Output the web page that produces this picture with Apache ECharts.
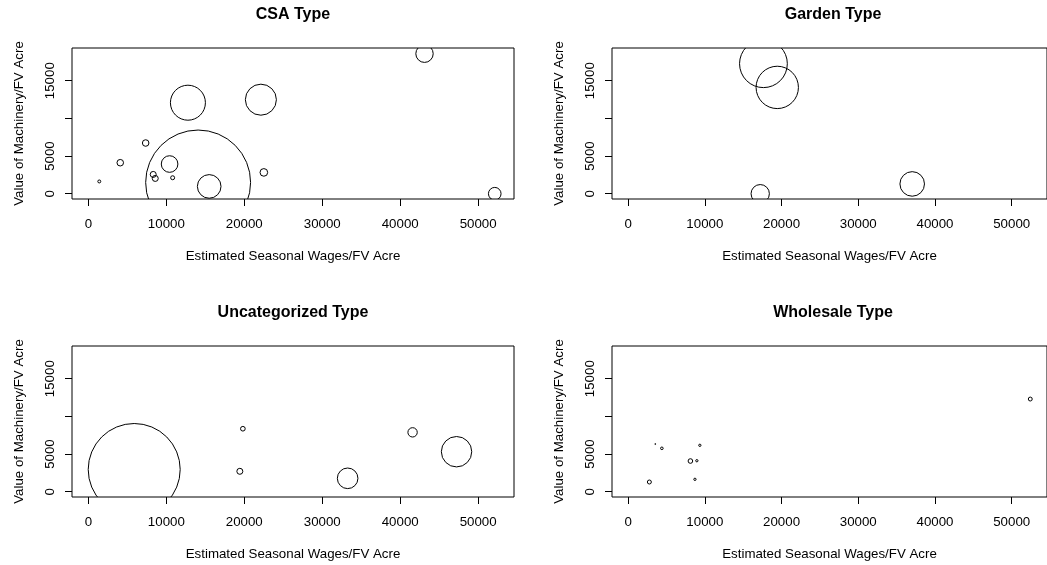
<!DOCTYPE html>
<html>
<head>
<meta charset="utf-8">
<script src="https://cdn.jsdelivr.net/npm/echarts@6/dist/echarts.min.js"></script>
<style>
  html, body { margin: 0; padding: 0; background: #fff; }
  #chart { width: 1047px; height: 565px; }
</style>
</head>
<body>
<div id="chart"></div>
<script>
// Seasonal wages per FV acre (x), machinery value per FV acre (y),
// bubble radius expressed in wage units (r), one set per farm type.
const csaX = [1400, 4090, 7350, 8320, 8580, 10810, 10420, 12770, 14080, 15500, 22130, 22510, 43120, 52130];
const csaY = [1630, 4115, 6730, 2560, 2030, 2120, 3940, 12080, 1490, 970, 12480, 2830, 18580, 0];
const csaR = [190, 420, 420, 385, 385, 255, 1065, 2245, 6730, 1515, 1990, 490, 1115, 810];

const gardenX = [17640, 19440, 17220, 37030];
const gardenY = [17255, 14110, 0, 1300];
const gardenR = [3115, 2760, 1195, 1600];

const uncatX = [5880, 19820, 19430, 33260, 41590, 47230];
const uncatY = [2950, 8360, 2710, 1780, 7880, 5310];
const uncatR = [5900, 300, 385, 1320, 600, 1950];

const wholesaleX = [3540, 4400, 9350, 8120, 8960, 8710, 2770, 52420];
const wholesaleY = [6330, 5760, 6160, 4075, 4115, 1645, 1290, 12300];
const wholesaleR = [60, 170, 150, 300, 150, 150, 260, 255];

const panelTitles = ['CSA Type', 'Garden Type', 'Uncategorized Type', 'Wholesale Type'];
const xTicks = [0, 10000, 20000, 30000, 40000, 50000];
const yTicks = [0, 5000, 10000, 15000];
const yTickLabels = [0, 5000, 15000];
const xName = 'Estimated Seasonal Wages/FV Acre';
const yName = 'Value of Machinery/FV Acre';

const xLimits = [-2100, 54600];
const yLimits = [-700, 19340];

const panels = [
  { x: csaX, y: csaY, r: csaR },
  { x: gardenX, y: gardenY, r: gardenR },
  { x: uncatX, y: uncatY, r: uncatR },
  { x: wholesaleX, y: wholesaleY, r: wholesaleR }
];

const FONT = "'Liberation Sans', Arial, Helvetica, sans-serif";
const lefts = [72, 612];
const tops = [48, 346];
const W = 442, H = 151;

// Open circle whose radius is measured along the wage axis; clipped to the plot box.
function renderBubble(params, api) {
  const c = api.coord([api.value(0), api.value(1)]);
  const r = api.size([api.value(2), 0])[0];
  return {
    type: 'circle',
    shape: { cx: c[0], cy: c[1], r: Math.max(r, 0.4) },
    style: { fill: 'none', stroke: '#000', lineWidth: 1 },
    silent: true
  };
}

const grids = [], xAxes = [], yAxes = [], series = [], texts = [];
panels.forEach((p, i) => {
  const left = lefts[i % 2], top = tops[Math.floor(i / 2)];
  grids.push({
    left: left, top: top, width: W, height: H,
    show: true, borderColor: '#000', borderWidth: 1,
    backgroundColor: 'transparent', containLabel: false
  });
  xAxes.push({
    type: 'value', gridIndex: i, min: xLimits[0], max: xLimits[1],
    axisLine: { show: false, onZero: false },
    axisTick: { show: true, customValues: xTicks, length: 7, lineStyle: { color: '#000', width: 1 } },
    axisLabel: { customValues: xTicks, formatter: v => String(v), color: '#000', fontSize: 13.3, fontFamily: FONT, margin: 19 },
    splitLine: { show: false },
    name: xName, nameLocation: 'middle', nameGap: 51,
    nameTextStyle: { color: '#000', fontSize: 13.3, fontFamily: FONT }
  });
  yAxes.push({
    type: 'value', gridIndex: i, min: yLimits[0], max: yLimits[1],
    axisLine: { show: false, onZero: false },
    axisTick: { show: true, customValues: yTicks, length: 7, lineStyle: { color: '#000', width: 1 } },
    axisLabel: { customValues: yTickLabels, formatter: v => String(v), rotate: 90, color: '#000', fontSize: 13.3, fontFamily: FONT, margin: 15 },
    splitLine: { show: false },
    name: yName, nameLocation: 'middle', nameGap: 46,
    nameTextStyle: { color: '#000', fontSize: 13.3, fontFamily: FONT }
  });
  series.push({
    type: 'custom', xAxisIndex: i, yAxisIndex: i, clip: true,
    renderItem: renderBubble,
    encode: { x: 0, y: 1 },
    data: p.x.map((x, j) => [x, p.y[j], p.r[j]]),
    silent: true
  });
  texts.push({
    type: 'text', x: left + W / 2, y: top - 33,
    style: { text: panelTitles[i], fill: '#000', font: 'bold 16px ' + FONT, textAlign: 'center', textVerticalAlign: 'middle' }
  });
});

const chart = echarts.init(document.getElementById('chart'), null, { renderer: 'canvas' });
chart.setOption({
  animation: false,
  backgroundColor: '#fff',
  grid: grids, xAxis: xAxes, yAxis: yAxes, series: series,
  graphic: { elements: texts }
});
</script>
</body>
</html>
